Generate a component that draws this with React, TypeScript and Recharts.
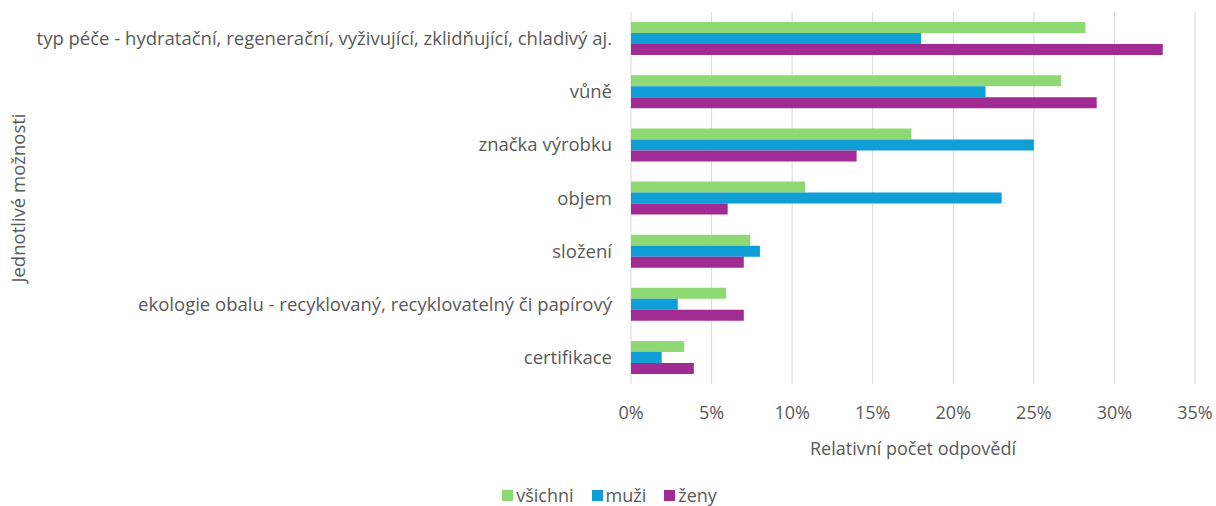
import React from 'react';
import { BarChart, Bar, XAxis, YAxis, CartesianGrid, Legend } from 'recharts';

const categories = [
  'typ péče - hydratační, regenerační, vyživující, zklidňující, chladivý aj.',
  'vůně',
  'značka výrobku',
  'objem',
  'složení',
  'ekologie obalu - recyklovaný, recyklovatelný či papírový',
  'certifikace',
];
const vsichni = [28.2, 26.7, 17.4, 10.8, 7.4, 5.9, 3.3];
const muzi = [18.0, 22.0, 25.0, 23.0, 8.0, 2.9, 1.9];
const zeny = [33.0, 28.9, 14.0, 6.0, 7.0, 7.0, 3.9];
const xTicks = [0, 5, 10, 15, 20, 25, 30, 35];

const series = [
  { key: 'vsichni', name: 'všichni', color: '#8ed973' },
  { key: 'muzi', name: 'muži', color: '#0f9ed5' },
  { key: 'zeny', name: 'ženy', color: '#a02b93' },
];

const data = categories.map((name, i) => ({
  name,
  vsichni: vsichni[i],
  muzi: muzi[i],
  zeny: zeny[i],
}));

const FONT = '"Open Sans", sans-serif';
const TEXT = '#595959';

const LegendBox = () => (
  <div style={{ display: 'flex', justifyContent: 'center', gap: 18, fontSize: 18, fontFamily: FONT, color: TEXT, marginLeft: 24, lineHeight: '22px' }}>
    {series.map((s) => (
      <span key={s.key} style={{ display: 'flex', alignItems: 'center' }}>
        <span style={{ width: 11, height: 11, background: s.color, marginRight: 3, display: 'inline-block' }} />
        {s.name}
      </span>
    ))}
  </div>
);

export default function App() {
  return (
    <div style={{ position: 'absolute', left: 0, top: 0, width: 1216, height: 506, background: '#fff', fontFamily: FONT }}>
      <BarChart
        width={1216}
        height={506}
        data={data}
        layout="vertical"
        margin={{ top: 12, right: 21, bottom: 0, left: 0 }}
        barCategoryGap="19%"
        barGap={0}
      >
        <CartesianGrid horizontal={false} stroke="#d9d9d9" />
        <XAxis
          type="number"
          domain={[0, 35]}
          ticks={xTicks}
          tickFormatter={(v) => `${v}%`}
          axisLine={false}
          tickLine={false}
          tickSize={0}
          tickMargin={22}
          height={100}
          tick={{ fill: TEXT, fontSize: 18, fontFamily: FONT }}
          label={{ value: 'Relativní počet odpovědí', position: 'insideBottom', offset: 29, fill: TEXT, fontSize: 18, fontFamily: FONT }}
        />
        <YAxis
          type="category"
          dataKey="name"
          width={631}
          axisLine={false}
          tickLine={false}
          tickSize={0}
          tickMargin={19}
          interval={0}
          tick={{ fill: TEXT, fontSize: 18.5, fontFamily: FONT }}
          label={{ value: 'Jednotlivé možnosti', angle: -90, position: 'insideLeft', offset: 18, fill: TEXT, fontSize: 18.5, fontFamily: FONT, style: { textAnchor: 'middle' } }}
        />
        <Legend verticalAlign="bottom" height={22} content={<LegendBox />} />
        {series.map((s) => (
          <Bar key={s.key} dataKey={s.key} name={s.name} fill={s.color} isAnimationActive={false} />
        ))}
      </BarChart>
    </div>
  );
}
